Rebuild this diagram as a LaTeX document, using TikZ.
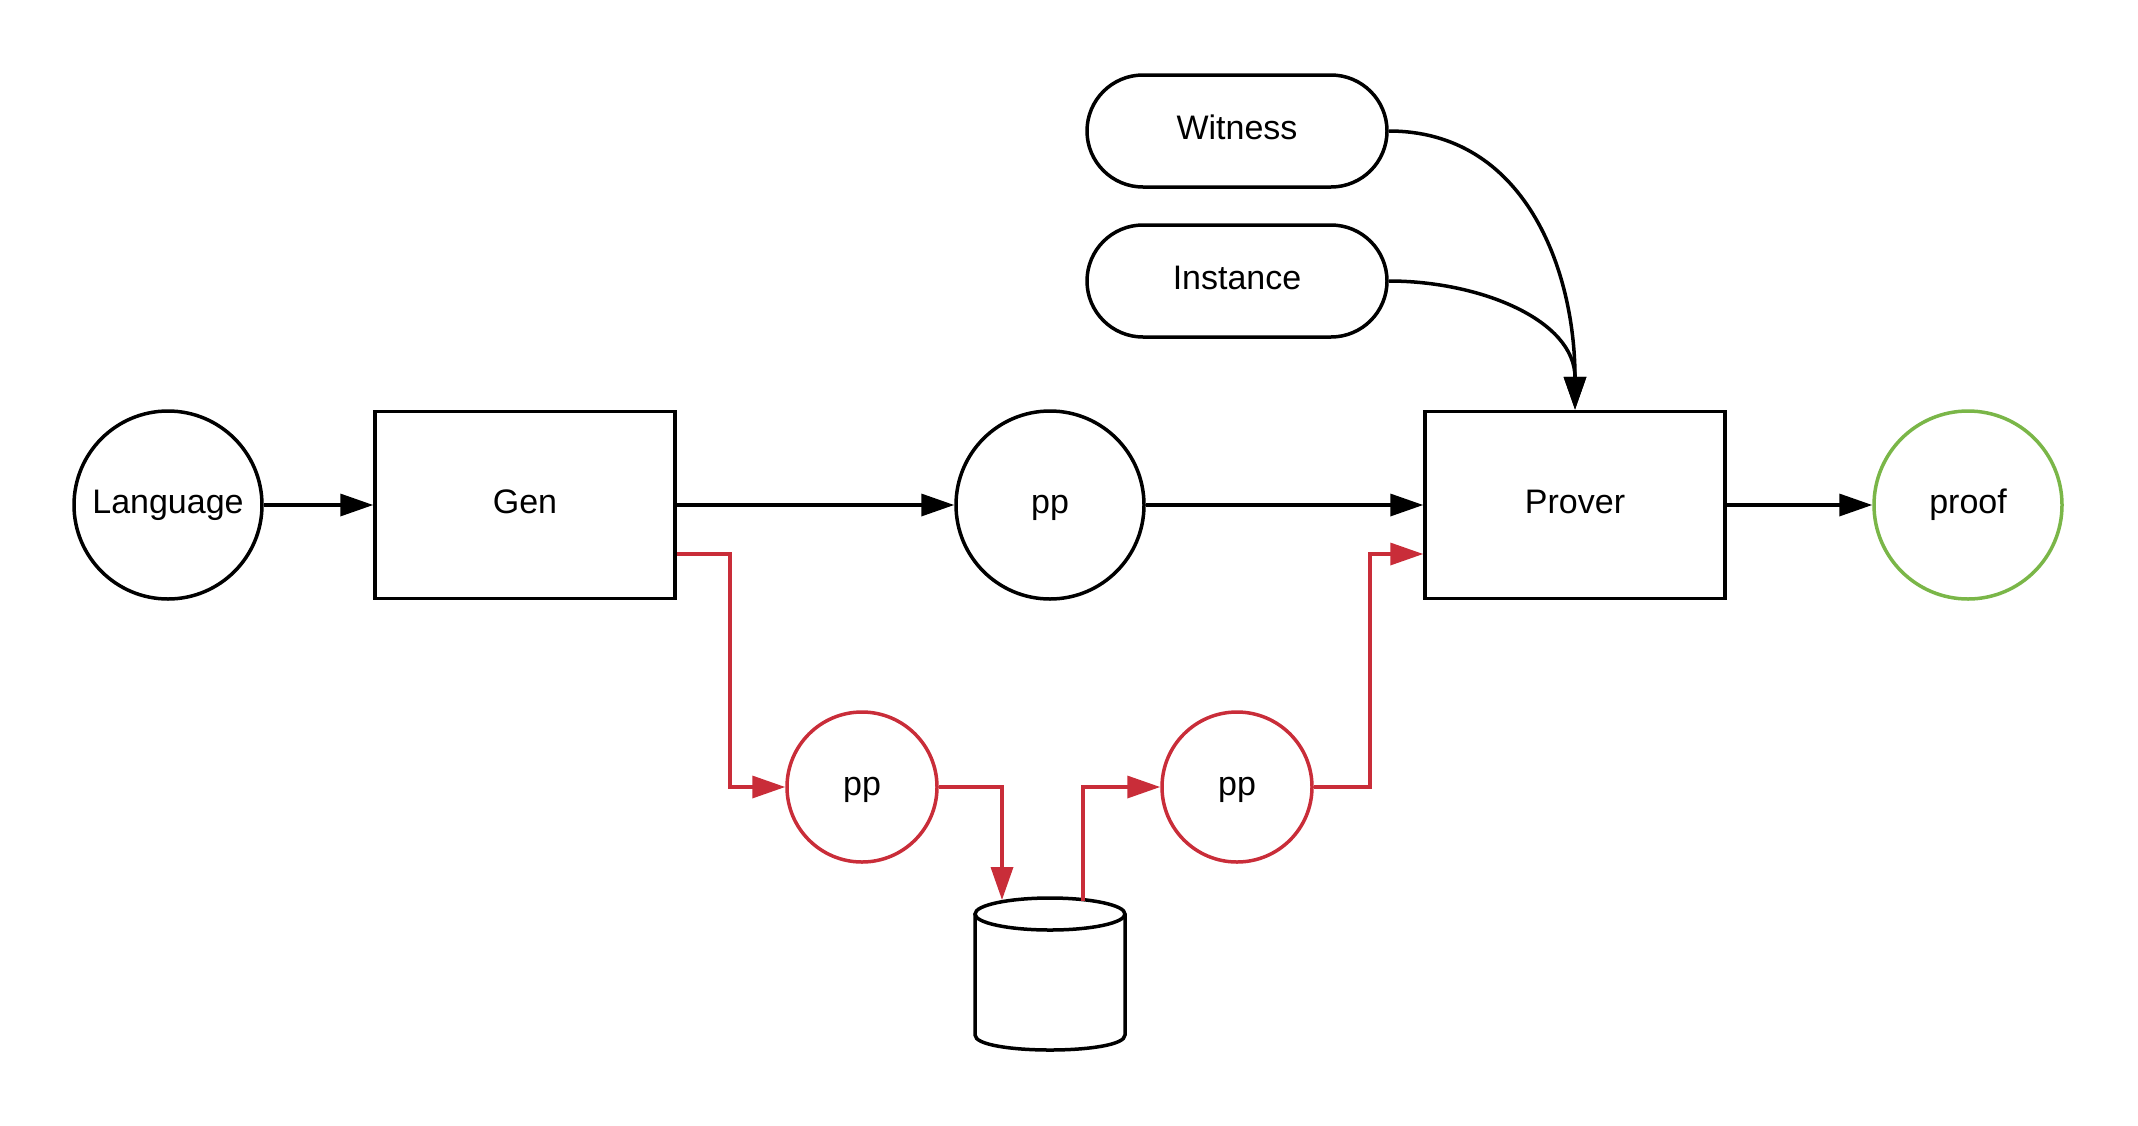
\documentclass[tikz,border=0pt]{standalone}
\usepackage{fontspec}
\setmainfont{Liberation Sans}
\usetikzlibrary{arrows.meta,calc}
\definecolor{lred}{HTML}{C92D39}
\definecolor{lgreen}{HTML}{7AB648}
\begin{document}
\begin{tikzpicture}[x=1pt,y=-1pt,
  every node/.style={font=\fontsize{34}{40}\selectfont, line width=3.5pt, text height=25pt, text depth=8.5pt},
  circ/.style={draw, circle, minimum size=188pt, inner sep=0pt},
  rcirc/.style={draw=lred, circle, minimum size=150pt, inner sep=0pt},
  gcirc/.style={draw=lgreen, circle, minimum size=188pt, inner sep=0pt},
  procbox/.style={draw, rectangle, minimum width=300pt, minimum height=187pt, inner sep=0pt},
  stadium/.style={draw, rectangle, rounded corners=56pt, minimum width=300pt, minimum height=112pt, inner sep=0pt},
  dbbox/.style={rectangle, minimum width=150pt, minimum height=150pt, inner sep=0pt},
  conn/.style={line width=3.5pt, -{Triangle[length=33pt,width=22pt]}},
  rconn/.style={line width=3.5pt, draw=lred, -{Triangle[length=33pt,width=22pt]}},
]
\useasboundingbox (0,0) rectangle (2138,1125);
\node[circ] (lang) at (168,505) {Language};
\node[procbox] (gen) at (525,505) {Gen};
\node[circ] (pp) at (1050,505) {pp};
\node[procbox] (prover) at (1575,505) {Prover};
\node[gcirc] (proof) at (1968,505) {proof};
\node[stadium] (wit) at (1237,131) {Witness};
\node[stadium] (inst) at (1237,281) {Instance};
\node[rcirc] (rpp1) at (862,787) {pp};
\node[rcirc] (rpp2) at (1237,787) {pp};
\node[dbbox] (db) at (1050,975) {};
% cylinder
\draw[line width=3.5pt] (975,914) -- (975,1035)
  .. controls (975,1055) and (1125,1055) .. (1125,1035)
  -- (1125,914);
\draw[line width=3.5pt, fill=white] (1050,914) ellipse [x radius=75, y radius=16];
% black connectors
\draw[conn] (wit.east) .. controls (1525,131) and (1575,270) .. (prover.north);
\draw[conn] (inst.east) .. controls (1480,281) and (1575,320) .. (prover.north);
\draw[conn] (lang) -- (gen);
\draw[conn] (gen) -- (pp);
\draw[conn] (pp) -- (prover);
\draw[conn] (prover) -- (proof);
% red connectors
\coordinate (dbin) at (1002,900);
\coordinate (dbout) at (1083,901);
\draw[rconn] ($(gen.east)+(0,49)$) -- (730,554) -- (730,787) -- (rpp1.west);
\draw[rconn] (rpp1.east) -- (1002,787) -- (dbin);
\draw[rconn] (dbout) -- (1083,787) -- (rpp2.west);
\draw[rconn] (rpp2.east) -- (1370,787) -- (1370,554) -- ($(prover.west)+(0,49)$);
\end{tikzpicture}
\end{document}
